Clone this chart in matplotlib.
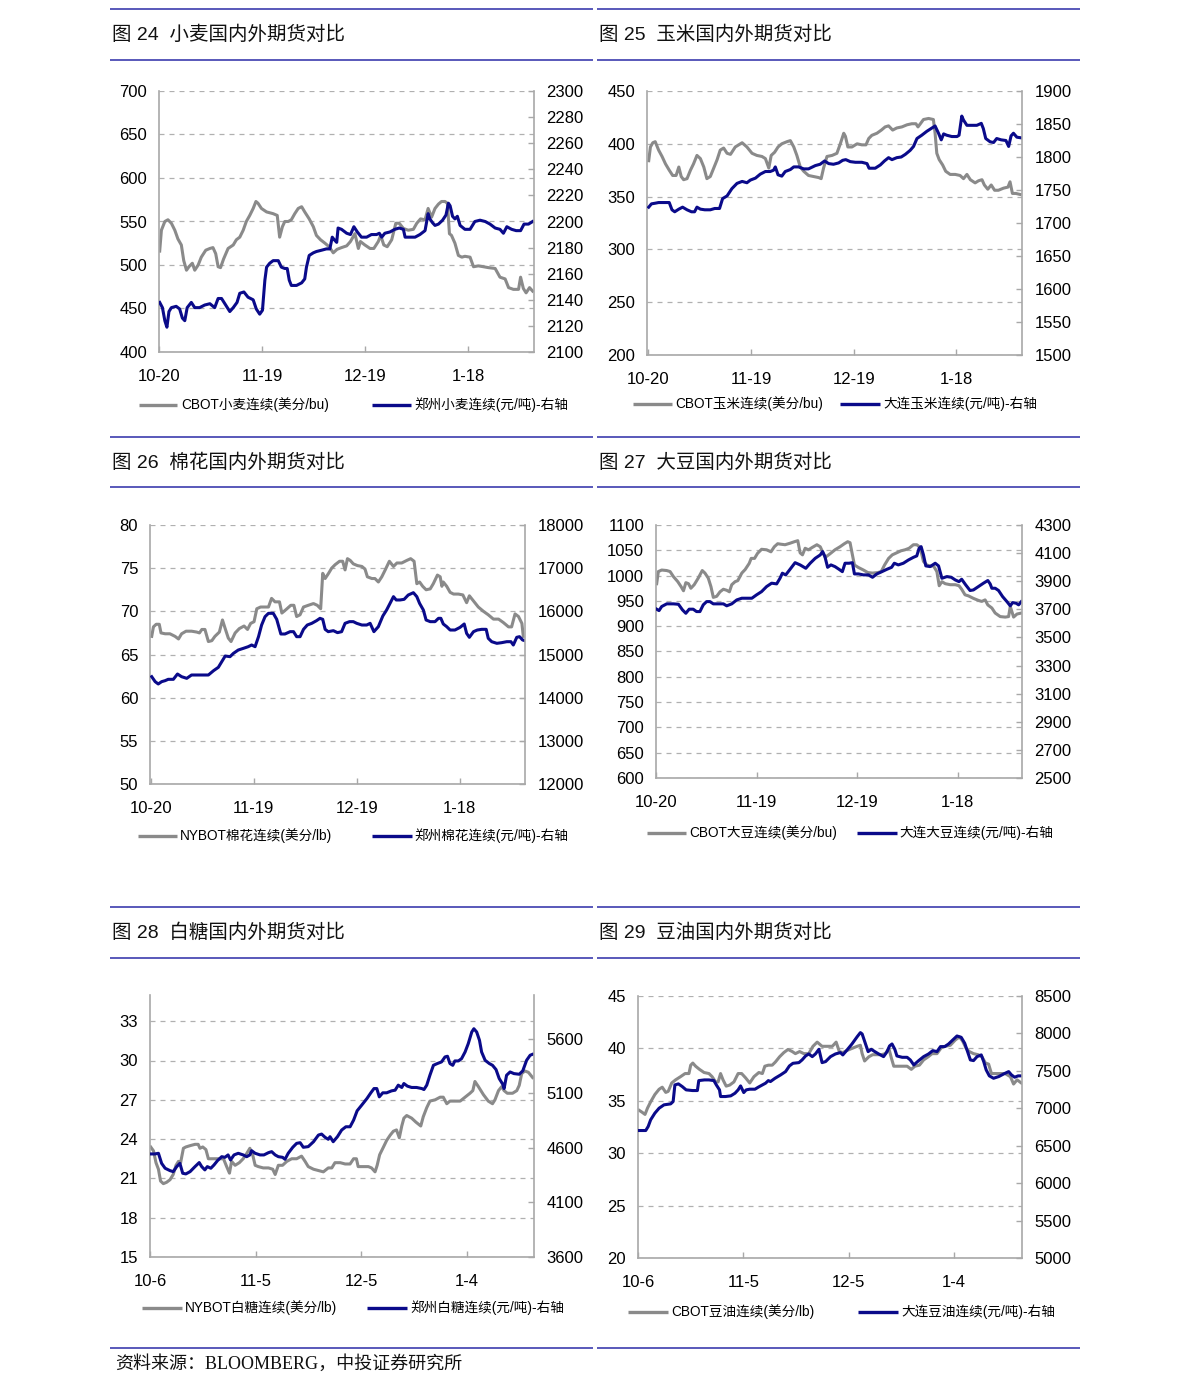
import matplotlib
matplotlib.use('Agg')
import matplotlib.pyplot as plt
from matplotlib.lines import Line2D

plt.rcParams['font.family'] = ['Liberation Sans', 'Noto Sans CJK SC', 'DejaVu Sans']

W, H = 1191, 1395
GRAY = '#8a8a8a'
NAVY = '#0a0a8a'
RULE = '#4b4bb4'
GRID = '#b0b0b0'
SPINE = '#a8a8a8'

# ---------------- data (x = days since first tick date) ----------------
# 图24 wheat
wheat_cbot_day = [0.2,0.7,1.7,2.6,3.6,4.6,5.5,6.5,7.2,8.0,8.7,9.7,10.4,11.4,12.3,13.6,14.8,15.7,16.5,17.2,
                  17.9,18.8,20.1,21.6,22.5,23.5,24.5,25.4,26.4,27.4,28.2,28.8,29.8,31.3,33.2,34.4,35.1,35.9,36.6,37.6,
                  38.5,39.5,40.5,41.5,42.4,43.7,44.9,45.8,47.0,48.3,49.5,50.7,51.8,53.1,54.6,55.7,57.0,58.0,58.6,59.9,
                  61.4,62.5,63.8,64.5,65.4,66.4,67.7,68.9,69.9,71.1,72.5,74.0,75.0,76.1,77.4,78.3,79.3,80.3,81.3,82.2,
                  83.2,83.9,84.5,85.1,86.1,87.1,88.1,89.0,90.5,91.5,92.9,94.4,95.8,97.8,99.2,100.7,101.7,103.1,104.6,105.2,
                  106.0,106.8,107.8,108.7]
wheat_cbot_val = [516,540,550,552,548,540,530,523,505,494,498,502,494,500,509,517,519,520,513,498,
                  497,507,519,523,529,532,540,550,557,565,573,571,565,561,559,557,532,544,550,550,
                  552,559,565,567,561,553,544,534,529,525,521,514,518,520,522,527,536,519,527,523,
                  519,519,527,534,523,521,529,548,548,542,540,541,548,553,552,565,555,565,570,573,
                  573,571,536,534,525,511,509,510,509,498,499,498,497,496,486,484,474,472,472,486,
                  473,468,474,470]
wheat_zz_day = [0.2,1.0,1.7,2.3,2.9,3.6,5.0,6.0,6.8,7.5,8.2,9.4,10.4,11.8,13.3,14.8,16.2,17.2,18.2,19.4,
                20.6,21.6,22.7,23.5,24.7,25.9,27.4,28.3,29.3,30.1,30.8,31.3,32.2,33.2,34.7,35.6,36.6,37.3,37.9,38.5,
                40.0,41.5,42.4,42.9,43.7,44.9,45.8,47.3,48.7,49.7,50.4,51.0,51.7,52.1,53.1,54.6,55.7,56.7,57.7,58.9,
                60.4,61.8,63.3,64.1,64.8,65.7,67.2,68.6,69.9,71.1,71.6,73.0,74.5,75.9,77.4,78.3,78.8,79.6,80.3,81.3,
                82.5,83.5,84.2,84.7,85.4,86.1,86.8,87.6,89.0,90.5,91.9,93.4,94.9,96.3,97.8,99.2,100.2,101.2,102.6,103.9,
                105.2,106.2,107.5,108.7]
wheat_zz_val = [2138,2134,2124,2119,2131,2134,2135,2133,2126,2124,2134,2138,2134,2134,2136,2137,2134,2141,2141,2136,
                2131,2134,2138,2145,2146,2142,2140,2133,2129,2132,2155,2165,2168,2170,2170,2165,2164,2164,2155,2151,
                2151,2153,2156,2165,2174,2176,2177,2178,2179,2179,2188,2186,2184,2195,2194,2191,2190,2196,2192,2188,
                2188,2190,2190,2191,2188,2191,2192,2194,2195,2194,2188,2188,2188,2190,2193,2206,2202,2199,2197,2198,
                2201,2205,2214,2212,2204,2202,2204,2197,2194,2194,2200,2201,2200,2198,2195,2194,2191,2196,2194,2193,
                2193,2198,2198,2200]

# 图25 corn
corn_cbot_day = [0.1,0.6,1.3,2.0,3.0,4.0,5.0,6.1,7.1,8.1,8.9,9.6,10.3,11.3,12.3,13.2,14.2,15.2,16.2,17.1,
                 18.1,19.1,20.1,21.0,22.0,23.0,24.0,25.4,27.4,28.8,30.3,31.7,33.2,34.2,35.2,35.9,36.9,37.9,39.0,40.5,
                 41.5,42.5,43.4,44.4,45.4,46.8,48.3,49.8,50.5,51.2,52.2,53.7,55.1,56.1,57.1,57.6,58.3,59.5,61.0,62.4,
                 63.6,64.4,65.3,66.8,68.1,69.2,70.2,71.4,72.6,74.1,75.6,77.0,78.2,78.8,79.5,80.4,81.9,83.3,83.8,84.3,
                 85.0,86.0,86.9,88.2,89.7,91.1,92.1,93.1,94.1,95.5,96.5,97.5,98.2,99.2,100.2,101.2,102.3,103.8,105.1,105.7,
                 106.4,107.4,108.7]
corn_cbot_val = [384,397,401,402,394,388,381,375,370,370,378,369,366,367,375,381,389,386,378,367,
                 369,377,385,394,396,391,390,397,401,397,391,389,388,386,377,389,392,397,400,402,
                 403,397,389,378,374,370,369,368,367,377,388,389,391,400,410,407,397,397,400,399,
                 399,405,408,410,413,416,417,413,415,416,418,419,419,416,419,423,424,423,410,391,
                 385,380,374,371,371,370,367,371,366,363,365,366,361,357,361,356,356,358,359,364,
                 353,353,352]
corn_dl_day = [0.1,0.9,2.0,3.0,4.5,6.1,6.9,7.7,8.9,10.0,11.3,12.6,13.5,14.2,15.2,16.5,18.1,19.4,20.8,21.7,
               23.0,24.4,25.9,27.4,28.8,29.8,31.3,32.7,34.2,35.6,36.6,37.1,37.9,39.0,40.0,41.5,42.5,43.9,45.4,46.8,
               48.8,50.2,51.5,52.7,54.1,55.6,56.8,57.7,59.0,60.5,62.4,63.9,64.5,66.3,67.8,69.0,70.2,71.2,72.6,73.9,
               75.1,76.5,77.5,78.5,79.9,81.4,82.9,83.8,84.8,85.6,86.3,87.2,88.7,90.2,90.8,91.6,92.1,93.1,94.5,96.0,
               97.3,97.9,98.6,99.9,100.9,101.8,103.1,104.5,105.3,106.0,106.7,107.7,109.0]
corn_dl_val = [1724,1729,1730,1731,1731,1731,1720,1717,1721,1724,1720,1717,1717,1724,1721,1720,1720,1722,1722,1737,
               1741,1752,1760,1763,1761,1765,1768,1774,1778,1778,1780,1785,1773,1771,1778,1781,1785,1785,1782,1782,
               1787,1789,1794,1790,1789,1791,1795,1796,1793,1792,1792,1790,1783,1783,1788,1794,1799,1796,1799,1800,
               1804,1810,1816,1828,1833,1839,1844,1847,1836,1826,1835,1833,1831,1831,1833,1862,1856,1848,1848,1848,
               1851,1843,1828,1823,1822,1828,1826,1825,1816,1832,1836,1830,1829]

# 图26 cotton
cotton_nybot_day = [0.3,0.8,1.6,2.5,3.0,4.2,5.6,7.1,8.1,9.0,10.3,11.9,13.4,14.2,14.9,15.8,16.8,17.8,18.7,20.0,
                    20.9,21.7,22.6,23.4,24.6,25.8,27.2,28.2,29.1,30.1,30.9,32.0,33.3,34.3,35.2,36.2,37.5,38.2,39.4,40.8,
                    41.7,42.5,43.5,44.5,45.9,47.4,48.5,49.5,50.1,50.8,51.8,52.7,53.7,55.0,55.9,56.6,57.3,58.1,59.0,60.2,
                    61.5,62.4,63.1,64.4,65.3,66.3,67.3,68.3,69.5,70.7,71.7,73.1,74.6,75.7,76.7,77.5,78.3,79.2,80.2,81.4,
                    82.3,83.5,84.3,84.8,85.2,86.2,87.2,88.2,89.6,90.9,92.0,92.8,94.0,95.4,96.9,98.3,99.8,101.3,102.7,104.2,
                    105.1,106.1,107.1,108.1,108.5]
cotton_nybot_val = [67.1,68.2,68.5,68.5,67.5,67.4,67.4,67.1,66.8,67.4,67.7,67.7,67.6,67.5,67.9,67.9,66.5,66.6,67.1,67.6,
                    69.0,68.0,66.9,66.5,67.5,68.0,68.3,67.9,68.6,68.8,70.3,70.5,70.5,70.5,71.5,71.1,71.1,69.8,70.2,70.7,
                    70.7,69.4,69.6,70.5,70.7,70.9,70.7,70.3,74.4,73.8,74.4,75.0,75.4,75.8,75.8,74.8,76.1,75.9,75.5,75.3,
                    75.2,74.9,74.0,73.8,73.8,73.4,74.0,74.8,75.8,75.2,75.6,75.6,75.9,76.1,75.8,73.2,73.4,72.9,72.5,72.6,
                    73.2,74.2,74.0,72.9,73.4,72.9,72.2,72.0,72.0,71.9,71.0,71.8,71.2,70.5,70.0,69.6,69.1,69.1,68.7,68.2,
                    68.2,69.7,69.4,68.6,67.1]
cotton_zz_day = [0.3,1.3,2.2,3.2,4.2,5.1,6.6,7.8,9.0,10.5,11.9,13.4,15.3,16.8,18.3,19.7,20.7,21.7,23.1,24.1,
                 25.5,27.0,28.4,29.4,30.4,31.4,32.3,33.3,34.3,35.7,36.7,37.9,39.1,40.6,41.6,42.5,43.5,44.5,45.6,46.9,
                 48.3,49.3,50.1,50.8,51.7,53.2,54.4,55.6,56.6,57.9,59.0,60.0,61.5,62.9,63.9,65.0,66.3,67.6,68.7,69.7,
                 70.7,71.5,72.6,73.8,75.0,76.5,77.5,78.3,79.4,80.2,81.4,82.8,83.8,84.5,85.2,86.2,87.2,88.6,90.1,91.3,
                 92.0,92.8,94.0,95.1,96.4,97.7,98.3,99.3,100.8,102.2,103.7,104.9,105.6,106.6,107.4,108.3,109.0]
cotton_zz_val = [14486,14371,14317,14371,14394,14425,14425,14548,14486,14448,14525,14525,14525,14525,14625,14703,14834,14965,14950,15027,
                 15104,15143,15181,15220,15181,15413,15683,15876,15954,15954,15815,15475,15475,15529,15529,15413,15413,15583,15683,15722,
                 15784,15838,15815,15583,15529,15552,15506,15529,15722,15761,15761,15722,15683,15683,15722,15529,15645,15892,16031,16185,
                 16340,16263,16263,16278,16378,16432,16340,16185,16031,15799,15761,15761,15838,15838,15707,15645,15567,15567,15629,15707,
                 15490,15398,15529,15567,15583,15583,15375,15297,15259,15274,15297,15297,15220,15398,15413,15336,15320]

# 图27 soybean
soy_cbot_day = [0.2,0.7,1.7,3.2,4.2,5.2,6.5,7.5,8.2,8.9,9.7,10.4,11.4,12.6,13.8,14.6,15.6,16.4,17.1,18.1,
                19.1,20.1,21.1,21.9,22.6,23.6,24.4,25.6,26.6,27.8,28.4,29.4,30.3,31.5,33.0,34.3,35.3,36.3,37.3,38.5,
                40.0,41.3,42.3,43.0,43.7,44.5,45.5,46.7,48.0,49.0,49.7,50.5,51.9,53.4,54.9,56.2,57.2,57.9,58.6,59.2,
                60.4,61.9,63.2,64.6,66.2,67.2,68.2,69.4,70.5,71.8,73.1,74.3,75.5,76.8,77.8,78.8,79.8,80.8,81.8,82.8,
                83.8,84.5,85.3,86.3,87.8,89.3,90.4,91.2,92.2,93.2,94.7,96.2,97.2,98.2,99.0,100.2,101.2,102.7,104.2,105.2,
                105.7,106.7,107.7,109.0]
soy_cbot_val = [984,1008,1011,1010,1008,998,988,978,970,986,984,975,982,995,1010,1005,995,978,957,959,
                968,973,971,968,982,988,990,1005,1012,1024,1034,1034,1044,1052,1051,1047,1057,1063,1062,1061,
                1064,1067,1069,1045,1041,1054,1051,1056,1061,1057,1047,1036,1043,1051,1057,1063,1067,1065,1041,1021,
                1016,1011,1006,1005,1006,1008,1021,1034,1041,1045,1049,1051,1054,1061,1061,1056,1028,1021,1019,1019,
                1008,980,988,984,982,982,980,973,962,960,955,951,949,952,942,936,926,919,918,919,
                939,918,924,926]
soy_dl_day = [0.2,0.9,1.7,3.2,5.2,6.7,7.9,8.9,9.9,11.1,12.1,13.1,14.1,15.1,16.1,17.1,18.6,20.1,21.1,22.6,
              24.1,25.6,27.1,28.6,30.0,31.5,33.0,34.5,36.0,37.0,37.7,38.7,40.0,41.5,43.0,44.7,46.0,47.5,49.0,49.7,
              50.4,51.2,52.2,53.4,54.6,55.6,56.4,57.6,58.6,59.2,60.4,61.9,63.4,64.6,65.9,67.4,68.9,70.3,71.1,72.3,
              73.8,75.3,76.8,77.8,78.5,79.1,79.8,80.5,81.8,83.3,84.3,85.3,86.8,88.1,89.3,90.4,91.2,92.4,93.7,94.7,
              96.2,97.7,99.0,99.7,100.2,101.2,102.2,103.4,104.7,105.7,106.4,107.4,108.2,109.0]
soy_dl_val = [3701,3691,3720,3739,3739,3736,3696,3672,3701,3701,3684,3684,3732,3755,3755,3739,3739,3739,3725,3739,
              3767,3779,3779,3779,3803,3826,3862,3886,3881,3921,3957,3945,3985,4032,4016,3992,4028,4063,4087,4111,
              4075,3999,4016,4004,3985,3968,4028,4028,4032,3952,3952,3945,3945,3928,3952,3968,3985,3999,4028,4016,
              4028,4051,4070,4080,4134,4146,4087,4009,4004,4028,4009,3921,3933,3928,3909,3897,3914,3874,3834,3838,
              3862,3886,3905,3881,3850,3850,3834,3791,3755,3725,3748,3744,3732,3755]

# 图28 sugar
sugar_nybot_day = [0.1,0.9,1.6,2.3,2.9,3.7,4.6,5.6,6.5,7.3,8.0,8.6,9.4,10.1,11.3,12.7,13.6,14.1,14.9,15.8,
                   16.5,17.9,19.3,20.8,21.7,22.5,23.1,24.1,25.3,26.4,27.4,28.3,29.1,29.8,30.7,32.1,33.6,34.8,35.5,36.4,
                   37.6,38.8,40.2,41.6,43.0,44.0,44.9,46.4,47.8,49.2,50.6,51.6,52.5,54.0,55.4,56.8,57.8,58.6,59.1,60.6,
                   62.0,62.9,63.9,64.5,65.2,66.3,67.2,68.2,69.1,70.0,70.8,71.5,72.1,72.9,74.3,75.5,76.9,77.6,78.6,79.5,
                   81.0,82.4,83.3,84.3,85.2,86.6,88.1,89.5,90.9,91.7,92.3,93.3,94.7,96.1,97.3,98.0,99.0,99.9,100.6,101.5,
                   103.0,104.2,104.9,105.6,106.5,107.5,108.7]
sugar_nybot_val = [23.4,23.1,22.2,21.7,20.8,20.6,20.7,20.9,21.3,22.0,22.3,22.2,23.3,23.4,23.5,23.6,23.6,23.3,23.4,23.2,
                   22.5,22.5,22.5,22.5,21.9,21.4,22.3,22.0,22.2,22.5,22.9,23.3,22.8,22.0,21.9,21.8,21.8,21.7,21.3,22.0,
                   22.0,22.3,22.5,22.5,22.7,22.3,21.9,21.7,21.6,21.5,21.8,21.8,22.2,22.2,22.1,22.1,22.5,22.5,21.9,21.9,
                   21.9,21.8,21.5,22.0,22.8,23.4,23.9,24.3,24.6,24.7,24.1,25.0,25.6,25.8,25.6,25.3,25.0,25.7,26.4,26.9,
                   27.0,27.2,27.2,26.7,26.9,26.9,26.9,27.2,27.5,27.7,28.4,28.0,27.4,26.9,26.7,27.0,27.7,28.0,27.7,27.5,
                   27.5,27.7,28.1,29.0,29.2,29.1,28.7]
sugar_zz_day = [0.1,1.3,2.3,3.2,4.2,5.6,6.5,7.5,8.4,9.2,10.1,11.3,12.7,13.9,14.6,15.5,16.2,17.2,18.1,19.1,
                20.3,21.2,22.1,22.8,23.8,25.0,26.4,27.4,28.3,28.8,29.8,31.2,32.3,33.6,34.5,35.5,36.4,37.6,38.3,39.2,
                40.5,41.6,42.6,43.5,44.9,46.4,47.8,48.7,49.7,50.6,51.1,52.0,53.2,54.4,55.6,56.8,57.8,58.8,60.1,61.6,
                62.7,63.6,64.4,65.1,66.1,67.2,68.6,69.6,70.5,71.5,72.1,73.1,74.3,75.7,77.2,77.8,78.6,79.5,80.5,81.6,
                82.8,83.8,84.5,85.2,86.0,86.6,87.6,88.5,89.5,90.4,91.4,92.0,92.8,93.6,94.2,95.2,96.4,97.3,98.3,99.2,
                100.2,100.6,101.3,102.3,103.4,104.9,105.9,107.0,108.0,108.7]
sugar_zz_val = [4544,4544,4550,4458,4413,4391,4382,4428,4458,4367,4361,4382,4428,4465,4428,4398,4428,4413,4443,4483,
                4519,4513,4535,4489,4535,4550,4535,4519,4535,4574,4550,4535,4535,4556,4565,4535,4519,4513,4495,4550,
                4605,4641,4647,4605,4611,4656,4717,4726,4696,4678,4702,4656,4702,4763,4793,4793,4854,4939,4991,5052,
                5104,5143,5143,5067,5104,5104,5122,5128,5174,5153,5189,5165,5153,5153,5143,5134,5174,5265,5356,5372,
                5387,5433,5439,5372,5356,5396,5396,5417,5478,5554,5661,5691,5661,5585,5478,5402,5372,5356,5317,5235,
                5183,5143,5265,5295,5280,5274,5305,5402,5448,5457]

# 图29 soybean oil
soyoil_cbot_day = [0.3,1.2,2.0,2.7,3.6,4.8,6.0,6.9,7.9,8.6,9.6,10.7,12.1,13.4,14.5,15.0,15.6,16.4,17.5,18.8,
                   20.2,21.1,22.1,22.8,23.5,24.2,25.1,26.1,27.3,28.5,29.5,30.6,31.8,33.0,34.4,35.4,36.1,37.1,38.2,39.1,
                   40.3,41.5,42.7,43.9,44.8,46.0,47.2,48.6,49.8,51.0,52.4,53.8,55.3,56.4,57.3,58.3,59.5,60.9,62.4,63.3,
                   63.8,64.5,65.7,66.8,68.1,69.3,70.4,71.4,72.1,72.8,73.7,75.2,76.6,77.8,78.8,80.1,81.3,82.6,83.7,85.1,
                   86.4,87.5,88.9,90.3,91.5,92.4,93.4,94.3,95.5,96.8,97.9,98.9,99.8,100.6,101.7,103.1,104.5,106.0,106.9,107.9,
                   109.1]
soyoil_cbot_val = [34.1,33.9,33.7,34.3,34.9,35.6,36.1,36.3,35.8,35.9,36.7,37.0,37.3,37.6,37.6,38.4,38.6,38.3,38.0,37.7,
                   37.6,37.3,36.8,36.8,37.6,37.0,36.4,36.5,36.8,37.6,37.6,37.2,36.7,37.3,37.7,37.6,38.3,38.4,38.4,38.7,
                   39.2,39.6,39.9,39.7,39.5,39.7,39.5,39.5,40.2,40.6,40.2,40.2,40.2,40.6,39.7,39.6,39.8,40.0,40.2,40.3,
                   39.5,38.8,39.2,39.4,39.4,39.4,39.5,40.0,39.1,38.3,38.3,38.3,38.3,38.0,38.3,38.4,38.9,39.2,39.5,39.5,
                   40.1,40.2,40.3,40.8,41.1,40.7,40.0,39.7,39.5,39.4,39.2,38.6,38.5,37.6,37.6,37.6,37.6,37.3,36.6,37.0,
                   36.7]
soyoil_dl_day = [0.3,2.2,2.9,3.6,4.8,6.0,7.4,9.3,10.0,10.5,11.5,12.6,13.7,15.5,16.9,17.3,18.9,20.2,21.6,22.3,
                 23.2,23.5,24.9,26.4,27.6,28.5,29.2,30.1,30.8,31.8,33.3,34.2,35.4,36.3,37.1,37.7,39.0,40.6,42.0,43.1,
                 44.1,45.8,46.7,47.7,48.6,49.6,50.5,51.5,52.4,53.4,54.8,56.2,57.6,58.3,59.5,60.9,62.4,63.3,63.8,64.7,
                 65.5,66.4,67.4,68.5,69.9,70.9,71.6,72.3,73.1,73.7,75.2,76.6,77.5,78.5,79.9,81.3,82.7,83.9,85.1,86.1,
                 87.3,88.4,89.6,90.8,92.0,93.0,93.9,94.6,95.5,96.5,97.7,98.4,99.1,100.0,101.2,102.7,104.1,105.5,106.3,107.2,
                 108.2,109.1]
soyoil_dl_val = [6703,6703,6757,6846,6935,7001,7046,7059,7090,7312,7326,7290,7246,7237,7237,7370,7379,7379,7370,7312,
                 7246,7157,7157,7166,7201,7246,7299,7210,7246,7255,7255,7281,7312,7335,7370,7357,7401,7446,7490,7566,
                 7601,7610,7646,7699,7726,7690,7726,7788,7610,7624,7690,7726,7744,7713,7779,7859,7957,8011,7993,7868,
                 7757,7788,7757,7726,7690,7757,7833,7859,7788,7699,7681,7681,7646,7579,7637,7690,7726,7770,7757,7824,
                 7824,7859,7913,7966,7948,7868,7744,7646,7637,7690,7713,7624,7513,7433,7401,7424,7459,7490,7446,7415,
                 7433,7433]

tick_days = [0, 30, 60, 90]
labels_a = ['10-20', '11-19', '12-19', '1-18']
labels_b = ['10-6', '11-5', '12-5', '1-4']

titles = ['图 24  小麦国内外期货对比', '图 25  玉米国内外期货对比', '图 26  棉花国内外期货对比',
          '图 27  大豆国内外期货对比', '图 28  白糖国内外期货对比', '图 29  豆油国内外期货对比']
legend_left = ['CBOT小麦连续(美分/bu)', 'CBOT玉米连续(美分/bu)', 'NYBOT棉花连续(美分/lb)',
               'CBOT大豆连续(美分/bu)', 'NYBOT白糖连续(美分/lb)', 'CBOT豆油连续(美分/lb)']
legend_right = ['郑州小麦连续(元/吨)-右轴', '大连玉米连续(元/吨)-右轴', '郑州棉花连续(元/吨)-右轴',
                '大连大豆连续(元/吨)-右轴', '郑州白糖连续(元/吨)-右轴', '大连豆油连续(元/吨)-右轴']
source = '资料来源：BLOOMBERG，中投证券研究所'

# ---------------- layout ----------------
fig = plt.figure(figsize=(W / 100, H / 100), dpi=100)


def rect(l, t, r, b):
    return [l / W, 1 - b / H, (r - l) / W, (b - t) / H]


def hline(x0, x1, y, color, lw):
    fig.add_artist(Line2D([x0 / W, x1 / W], [1 - y / H, 1 - y / H],
                          transform=fig.transFigure, color=color, lw=lw, solid_capstyle='butt'))


panels = [
    dict(box=(159, 91, 534, 352), xlim=(0, 109.1), ylim=(400, 700), yt=list(range(400, 701, 50)),
         y2lim=(2100, 2300), y2t=list(range(2100, 2301, 20)), xl=labels_a,
         g=(wheat_cbot_day, wheat_cbot_val), b=(wheat_zz_day, wheat_zz_val),
         title=(112, 35), rules=(110, 593, 9, 60), leg=(139, 177, 181, 372, 411, 414, 405)),
    dict(box=(647, 91, 1022, 355), xlim=(-0.4, 109.2), ylim=(200, 450), yt=list(range(200, 451, 50)),
         y2lim=(1500, 1900), y2t=list(range(1500, 1901, 50)), xl=labels_a,
         g=(corn_cbot_day, corn_cbot_val), b=(corn_dl_day, corn_dl_val),
         title=(599, 35), rules=(597, 1080, 9, 60), leg=(633, 672, 675, 840, 880, 883, 404)),
    dict(box=(150, 525, 525, 784), xlim=(-0.2, 109.0), ylim=(50, 80), yt=list(range(50, 81, 5)),
         y2lim=(12000, 18000), y2t=list(range(12000, 18001, 1000)), xl=labels_a,
         g=(cotton_nybot_day, cotton_nybot_val), b=(cotton_zz_day, cotton_zz_val),
         title=(112, 463), rules=(110, 593, 437, 487), leg=(138, 177, 180, 372, 412, 414, 836)),
    dict(box=(656, 525, 1022, 778), xlim=(0, 109.2), ylim=(600, 1100), yt=list(range(600, 1101, 50)),
         y2lim=(2500, 4300), y2t=list(range(2500, 4301, 200)), xl=labels_a,
         g=(soy_cbot_day, soy_cbot_val), b=(soy_dl_day, soy_dl_val),
         title=(599, 463), rules=(597, 1080, 437, 487), leg=(647, 686, 689, 857, 897, 899, 833)),
    dict(box=(150, 995, 534, 1257), xlim=(-0.1, 109.1), ylim=(15, 35), yt=list(range(15, 34, 3)),
         y2lim=(3600, 6000), y2t=list(range(3600, 5601, 500)), xl=labels_b,
         g=(sugar_nybot_day, sugar_nybot_val), b=(sugar_zz_day, sugar_zz_val),
         title=(112, 933), rules=(110, 593, 907, 958), leg=(142, 182, 185, 367, 407, 410, 1308)),
    dict(box=(638, 996, 1022, 1258), xlim=(0, 109.3), ylim=(20, 45), yt=list(range(20, 46, 5)),
         y2lim=(5000, 8500), y2t=list(range(5000, 8501, 500)), xl=labels_b,
         g=(soyoil_cbot_day, soyoil_cbot_val), b=(soyoil_dl_day, soyoil_dl_val),
         title=(599, 933), rules=(597, 1080, 907, 958), leg=(628, 668, 671, 858, 898, 901, 1312)),
]

for i, p in enumerate(panels):
    ax = fig.add_axes(rect(*p['box']))
    ax2 = ax.twinx()
    ax.set_xlim(*p['xlim'])
    ax.set_ylim(*p['ylim'])
    ax2.set_ylim(*p['y2lim'])
    ax.set_yticks(p['yt'])
    ax2.set_yticks(p['y2t'])
    ax.set_xticks(tick_days)
    ax.set_xticklabels(p['xl'])

    ax.plot(*p['g'], color=GRAY, lw=2.2, solid_joinstyle='round')
    ax2.plot(*p['b'], color=NAVY, lw=2.2, solid_joinstyle='round')

    ax.grid(axis='y', color=GRID, lw=0.9, linestyle=(0, (4, 4)))
    ax.set_axisbelow(True)
    for s in ('top', 'right'):
        ax.spines[s].set_visible(False)
    for s in ('top', 'left', 'bottom'):
        ax2.spines[s].set_visible(False)
    for s in ('left', 'bottom'):
        ax.spines[s].set_color(SPINE)
        ax.spines[s].set_linewidth(1.2)
    ax2.spines['right'].set_color(SPINE)
    ax2.spines['right'].set_linewidth(1.2)

    ax.tick_params(axis='y', length=0, pad=8.5, labelsize=12, colors='black')
    ax.tick_params(axis='x', direction='in', length=4, width=1, color=SPINE, pad=12, labelsize=12)
    ax2.tick_params(axis='y', direction='in', length=4, width=1, color=SPINE, pad=9, labelsize=12)

    tx, ty = p['title']
    fig.text(tx / W, 1 - ty / H, titles[i], fontsize=14, va='center', ha='left',
             family=['Liberation Sans', 'Noto Sans CJK SC'], fontweight='light', color='#111111')
    x0, x1, y0, y1 = p['rules']
    hline(x0, x1, y0, RULE, 1.3)
    hline(x0, x1, y1, RULE, 1.3)

    gl0, gl1, gt, bl0, bl1, bt, ly = p['leg']
    hline(gl0, gl1, ly, GRAY, 2.4)
    hline(bl0, bl1, ly, NAVY, 2.4)
    fig.text(gt / W, 1 - ly / H, legend_left[i], fontsize=9.8, va='center', ha='left')
    fig.text(bt / W, 1 - ly / H, legend_right[i], fontsize=9.8, va='center', ha='left')

hline(110, 593, 1348, RULE, 1.3)
hline(597, 1080, 1348, RULE, 1.3)
fig.text(115 / W, 1 - 1364 / H, source, fontsize=13, va='center', ha='left',
         family=['Liberation Serif', 'Noto Sans CJK SC'], color='#111111')

fig.savefig('out.png', dpi=100)
